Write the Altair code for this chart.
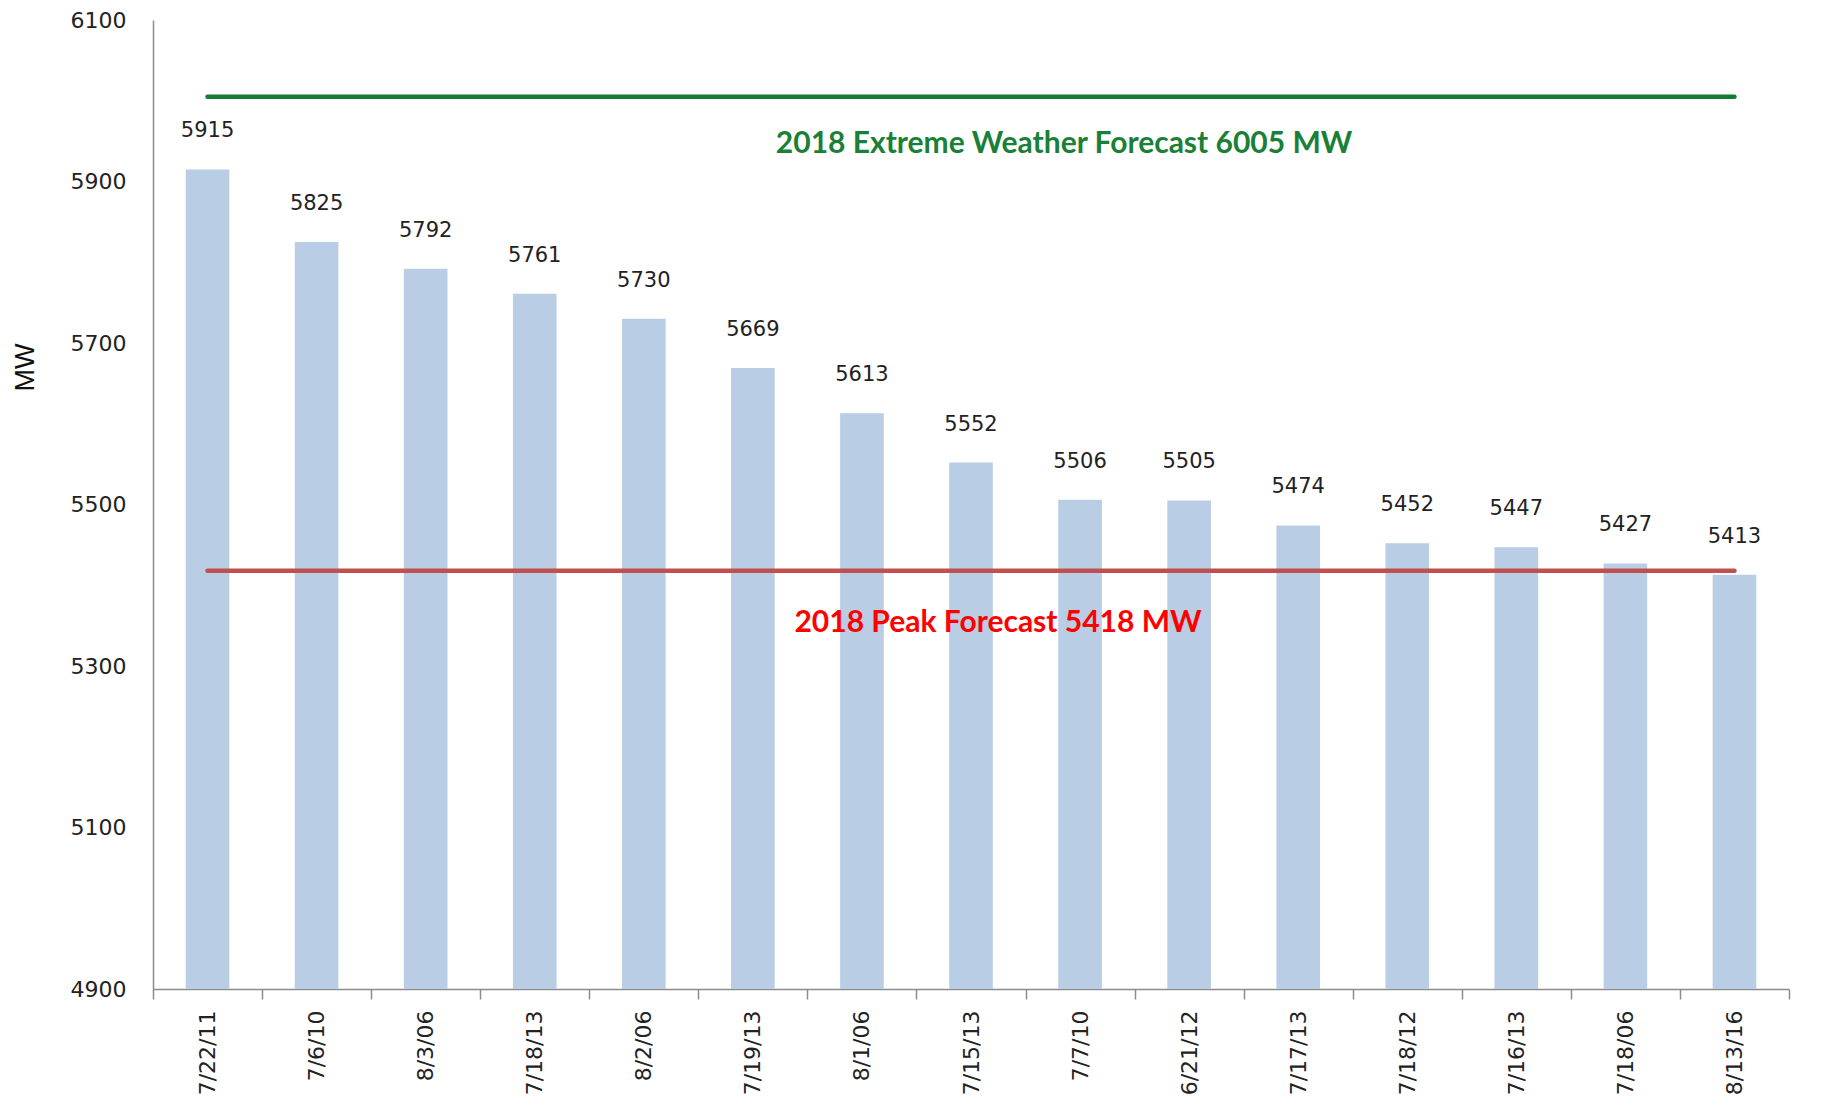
import altair as alt
import pandas as pd

dates = ["7/22/11", "7/6/10", "8/3/06", "7/18/13", "8/2/06", "7/19/13", "8/1/06",
         "7/15/13", "7/7/10", "6/21/12", "7/17/13", "7/18/12", "7/16/13", "7/18/06", "8/13/16"]
peaks = [5915, 5825, 5792, 5761, 5730, 5669, 5613, 5552, 5506, 5505, 5474, 5452, 5447, 5427, 5413]

extreme_value = 6005
peak_value = 5418
extreme_text = "2018 Extreme Weather Forecast 6005 MW"
peak_text = "2018 Peak Forecast 5418 MW"
y_ticks = [4900, 5100, 5300, 5500, 5700, 5900, 6100]

bars_df = pd.DataFrame({"date": dates, "mw": peaks})
lines_df = pd.DataFrame({
    "date": [dates[0], dates[-1], dates[0], dates[-1]],
    "mw": [extreme_value, extreme_value, peak_value, peak_value],
    "series": ["extreme", "extreme", "peak", "peak"],
})
ann_extreme = pd.DataFrame({"date": [dates[8]], "mw": [extreme_value], "label": [extreme_text]})
ann_peak = pd.DataFrame({"date": [dates[7]], "mw": [peak_value], "label": [peak_text]})

x_scale = alt.Scale(paddingInner=0, paddingOuter=0)
x_enc = alt.X("date:N", sort=dates, scale=x_scale,
              axis=alt.Axis(title=None, labelAngle=270, labelFont="DejaVu Sans", labelFontSize=22,
                            labelColor="#222222", labelPadding=11, tickSize=10, tickBand="extent",
                            tickColor="#8c8c8c", domainColor="#8c8c8c", domainWidth=1.5, tickWidth=1.5,
                            grid=False))
y_scale = alt.Scale(domain=[4900, 6100], nice=False, zero=False)
y_enc = alt.Y("mw:Q", scale=y_scale,
              axis=alt.Axis(title="MW", values=y_ticks, format="d", ticks=False, grid=False,
                            labelFont="DejaVu Sans", labelFontSize=22, labelColor="#222222",
                            labelPadding=27, domainColor="#8c8c8c", domainWidth=1.5,
                            titleFont="Liberation Sans", titleFontSize=27, titleFontWeight="normal",
                            titleColor="#111111", titleAngle=270, titleX=-128, titleY=347,
                            titleAlign="center", titleBaseline="middle"))

bars = alt.Chart(bars_df).mark_bar(color="#B9CDE5", width=alt.RelativeBandSize(0.4)).encode(
    x=x_enc, y=y_enc, y2=alt.datum(4900))

labels = alt.Chart(bars_df).mark_text(font="DejaVu Sans", fontSize=21, color="#222222",
                                      baseline="middle", dy=-38).encode(
    x=alt.X("date:N", sort=dates), y=alt.Y("mw:Q", scale=y_scale), text="mw:Q")

lines = alt.Chart(lines_df).mark_line(strokeWidth=4.5, strokeCap="round").encode(
    x=alt.X("date:N", sort=dates),
    y=alt.Y("mw:Q", scale=y_scale),
    detail="series:N",
    color=alt.Color("series:N", scale=alt.Scale(domain=["extreme", "peak"], range=["#137D36", "#C0504D"]),
                    legend=None),
)

t_extreme = alt.Chart(ann_extreme).mark_text(font="Lato", fontWeight="bold", fontSize=30,
                                             color="#1A7F37", dx=-16, dy=47, baseline="middle").encode(
    x=alt.X("date:N", sort=dates), y=alt.Y("mw:Q", scale=y_scale), text="label:N")

t_peak = alt.Chart(ann_peak).mark_text(font="Lato", fontWeight="bold", fontSize=30,
                                       color="#FF0000", dx=27, dy=52, baseline="middle").encode(
    x=alt.X("date:N", sort=dates), y=alt.Y("mw:Q", scale=y_scale), text="label:N")

chart = alt.layer(bars, labels, lines, t_extreme, t_peak).properties(
    width=1636, height=969,
    autosize=alt.AutoSizeParams(type="none"),
    padding={"left": 145, "top": 12, "right": 20, "bottom": 110},
).configure(background="white").configure_view(strokeWidth=0)

chart.save("out.html", embed_options={"renderer": "svg", "actions": False})
